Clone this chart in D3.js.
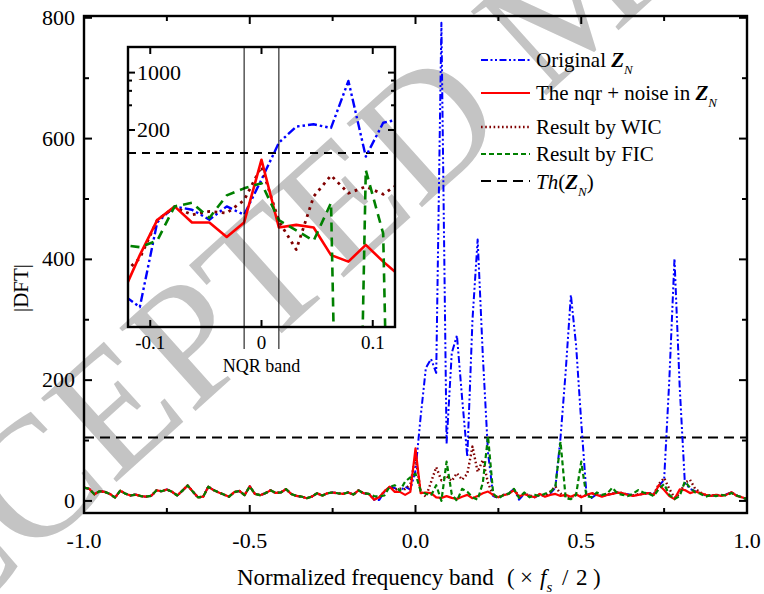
<!DOCTYPE html>
<html><head><meta charset="utf-8">
<script src="https://cdn.jsdelivr.net/npm/d3@7"></script>
<style>
body{margin:0;background:#fff}
svg{display:block}
text{font-family:"Liberation Serif","Times New Roman",serif;fill:#000}
</style>
</head><body>
<svg id="chart" width="764" height="594"></svg>
<script>
// frequency bins: k/64 for k = -64..64 (normalized frequency, x fs/2)
const binIndex = d3.range(-64, 65);

// shared background noise, k = -64 .. -9 (all four curves coincide here)
const noiseLeft = [22,20,11,16,15,11.6,5.5,17,12,9,10.5,8,7,8.5,17.5,16,19,15,9,17,25.5,15.5,6,7,23.5,18,14,10.5,7,14.5,16.5,9.5,
  24,11.6,9.5,12.7,17.5,13.3,14,19.5,11.6,8.3,7.2,4.4,7.2,12.7,8.8,12.7,14,12.7,11.6,14,10.5,17.5,12.7,11.6];

// k = -8 .. 64
const originalRight = [2,1.4,15,23.5,21.4,16.2,23.5,18.6, 50,
  140,220,235,212,792,95,245,274,170,73,300,433,240,80,8,5,10,12,20,2,12,9,6,10,8,12,22,105,215,341,258,130,12,5,11,8,10,12,14,12,11,9,10,12,13,12,25,35,200,401,190,30,20,16,13,9,8,10,9,11,14,9,6,3];
const nqrRight = [2,6,16,23.5,15,15,10,15, 87,
  13,14,13,6,5,8,5,3.3,7,10,4.4,8,12.7,15.5,10,6,9.4,11.6,18,7,11.6,8.3,6,11.6,7,10,11.6,8.3,10,7,11,6,10,12.8,10,7,10,11.6,13.8,12.8,10,8.3,10,11.6,12.8,10,26.5,18,8,3,19,18,13,15.5,13,10,8.3,10,8.3,10,14.4,8.3,6,3.3];
const wicRight = [3.5,5.5,16,23,18.6,20.4,19.5,28, 72,
  15.5,7,31,56,34,41,33,46,35,45,90,48,68,30,8,6,10,12,19,8,12,9,7,11,9,15,24,12,8,6,10,8,9,13,10,8,11,12,14,13,10,9,11,12,13,11,28,38,20,5,12,30,35,20,14,10,9,10,9,10,14,9,6,3];
const ficRight = [8,7.5,9,23.5,26,17,32,39, 45,
  16,12,9,26,0,65,11,0,20,15,6,2,30,107,12,4,10,12,20,5,14,6,10,8,12,15,23,98,4,3,10,65,8,6,14,10,12,22,12,10,8,12,18,14,12,8,20,28,10,3,8,32,22,14,12,7,10,8,10,9,13,9,6,3];

const threshold = 105;
const xTicks = [-1.0, -0.5, 0.0, 0.5, 1.0];
const xMinorTicks = [-0.75, -0.25, 0.25, 0.75];
const yTicks = [0, 200, 400, 600, 800];
const yMinorTicks = [100, 300, 500, 700];
const insetXTicks = [-0.1, 0, 0.1];
const insetYLabels = [200, 1000];
const insetYMinor = [400, 600, 800];
const nqrBand = [-1/64, 1/64];

const toPts = arr => arr.map((v, i) => ({f: binIndex[i] / 64, v}));
const series = [
  {key:"orig", data: toPts(noiseLeft.concat(originalRight)), color:"#0000ff", w:2, dash:"7,2.5,2,2.5,2,2.5", idash:"9,3,2.5,3,2.5,3"},
  {key:"wic",  data: toPts(noiseLeft.concat(wicRight)), color:"#800000", w:2.4, dash:"1.6,2.6", idash:"2.8,4.5"},
  {key:"nqr",  data: toPts(noiseLeft.concat(nqrRight)), color:"#ff0000", w:2.2, dash:null, idash:null},
  {key:"fic",  data: toPts(noiseLeft.concat(ficRight)), color:"#008000", w:2.2, dash:"5,3", idash:"9,6"}
];

const svg = d3.select("#chart");

// watermark
svg.append("text")
  .attr("transform","translate(-150,722) rotate(-42)")
  .attr("font-size",172)
  .style("fill","#c4c4c4")
  .text("ACCEPTED MANUSCRIPT");

// ---------- main plot ----------
const L = 84, R = 747, T = 16, B = 513;
const x = d3.scaleLinear().domain([-1, 1]).range([L, R]);
const y = d3.scaleLinear().domain([-20, 803]).range([B, T]);

svg.append("clipPath").attr("id","mainClip").append("rect")
  .attr("x",L).attr("y",T).attr("width",R-L).attr("height",B-T);

const gMain = svg.append("g").attr("clip-path","url(#mainClip)");
const line = d3.line().x(d => x(d.f)).y(d => y(d.v));

gMain.append("line").attr("x1",x(-1)).attr("x2",x(1)).attr("y1",y(threshold)).attr("y2",y(threshold))
  .attr("stroke","#000").attr("stroke-width",2).attr("stroke-dasharray","10,6");

series.forEach(s => {
  gMain.append("path").datum(s.data).attr("d", line)
    .attr("fill","none").attr("stroke", s.color).attr("stroke-width", s.w)
    .attr("stroke-linejoin","round")
    .attr("stroke-dasharray", s.dash);
});

// frame
svg.append("rect").attr("x",L).attr("y",T).attr("width",R-L).attr("height",B-T)
  .attr("fill","none").attr("stroke","#000").attr("stroke-width",2.4);

// ticks (inward on all sides)
const tg = svg.append("g").attr("stroke","#000").attr("stroke-width",2);
xTicks.forEach(t => {
  tg.append("line").attr("x1",x(t)).attr("x2",x(t)).attr("y1",B).attr("y2",B-8);
  tg.append("line").attr("x1",x(t)).attr("x2",x(t)).attr("y1",T).attr("y2",T+8);
});
xMinorTicks.forEach(t => {
  tg.append("line").attr("x1",x(t)).attr("x2",x(t)).attr("y1",B).attr("y2",B-5);
  tg.append("line").attr("x1",x(t)).attr("x2",x(t)).attr("y1",T).attr("y2",T+5);
});
yTicks.forEach(t => {
  tg.append("line").attr("x1",L).attr("x2",L+8).attr("y1",y(t)).attr("y2",y(t));
  tg.append("line").attr("x1",R).attr("x2",R-8).attr("y1",y(t)).attr("y2",y(t));
});
yMinorTicks.forEach(t => {
  tg.append("line").attr("x1",L).attr("x2",L+5).attr("y1",y(t)).attr("y2",y(t));
  tg.append("line").attr("x1",R).attr("x2",R-5).attr("y1",y(t)).attr("y2",y(t));
});

// tick labels
svg.append("g").selectAll("text").data(xTicks).join("text")
  .attr("x", d => x(d)).attr("y", 548).attr("text-anchor","middle").attr("font-size",22)
  .text(d => d.toFixed(1));
svg.append("g").selectAll("text").data(yTicks).join("text")
  .attr("x", 75).attr("y", d => y(d) + 7).attr("text-anchor","end").attr("font-size",22)
  .text(d => d);

// axis titles
svg.append("text").attr("transform","translate(28,288) rotate(-90)").attr("text-anchor","middle")
  .attr("font-size",21).text("|DFT|");
const xt = svg.append("text").attr("y",585).attr("font-size",23);
xt.append("tspan").attr("x",237).text("Normalized frequency band");
xt.append("tspan").attr("x",507).text("(");
xt.append("tspan").attr("x",520).text("×");
xt.append("tspan").attr("x",540).attr("font-style","italic").text("f");
xt.append("tspan").attr("font-style","italic").attr("font-size",15).attr("dy",7).text("s");
xt.append("tspan").attr("x",562).attr("dy",-7).text("/");
xt.append("tspan").attr("x",576).text("2");
xt.append("tspan").attr("x",593).text(")");

// legend
const legendRows = [
  {s:"orig", y:60, base:67, parts:[["Original ",""],["Z","bi"],["N","sub"]]},
  {s:"nqr", y:93, base:100, parts:[["The nqr + noise in ",""],["Z","bi"],["N","sub"]]},
  {s:"wic", y:127, base:134, parts:[["Result by WIC",""]]},
  {s:"fic", y:154, base:161, parts:[["Result by FIC",""]]},
  {s:"th", y:181, base:189, parts:[["Th","i"],["(",""],["Z","bi"],["N","sub"],[")","up"]]}
];
const lg = svg.append("g");
legendRows.forEach(r => {
  const s = series.find(q => q.key === r.s);
  lg.append("line").attr("x1",481).attr("x2",530).attr("y1",r.y).attr("y2",r.y)
    .attr("stroke", s ? s.color : "#000").attr("stroke-width", s ? s.w : 2)
    .attr("stroke-dasharray", s ? s.dash : "10,6");
  const t = lg.append("text").attr("x",536).attr("y",r.base).attr("font-size",21);
  r.parts.forEach(p => {
    const sp = t.append("tspan").text(p[0]);
    if (p[1] === "bi") sp.attr("font-weight","bold").attr("font-style","italic");
    if (p[1] === "i") sp.attr("font-style","italic");
    if (p[1] === "sub") sp.attr("font-style","italic").attr("font-size",13).attr("dy",7);
    if (p[1] === "up") sp.attr("dy",-7);
  });
});

// ---------- inset ----------
const iL = 128, iR = 395, iT = 47, iB = 327;
const xi = d3.scaleLinear().domain([-0.12, 0.12]).range([iL, iR]);
const yi = d3.scaleLog().domain([0.8, 2050]).range([iB, iT]);

svg.append("clipPath").attr("id","insetClip").append("rect")
  .attr("x",iL).attr("y",iT).attr("width",iR-iL).attr("height",iB-iT);
const gIn = svg.append("g").attr("clip-path","url(#insetClip)");
const iline = d3.line().x(d => xi(d.f)).y(d => yi(Math.max(d.v, 1e-9)));

gIn.append("line").attr("x1",iL).attr("x2",iR).attr("y1",yi(threshold)).attr("y2",yi(threshold))
  .attr("stroke","#000").attr("stroke-width",2).attr("stroke-dasharray","8,6");
series.forEach(s => {
  gIn.append("path").datum(s.data.filter(d => d.f >= -0.15 && d.f <= 0.15)).attr("d", iline)
    .attr("fill","none").attr("stroke", s.color).attr("stroke-width", s.w + 0.4)
    .attr("stroke-linejoin","round")
    .attr("stroke-dasharray", s.idash);
});

// NQR band markers
nqrBand.forEach(f => {
  svg.append("line").attr("x1",xi(f)).attr("x2",xi(f)).attr("y1",iT).attr("y2",iB+22)
    .attr("stroke","#000").attr("stroke-width",1);
});

svg.append("rect").attr("x",iL).attr("y",iT).attr("width",iR-iL).attr("height",iB-iT)
  .attr("fill","none").attr("stroke","#000").attr("stroke-width",2.4);

const itg = svg.append("g").attr("stroke","#000").attr("stroke-width",2);
insetXTicks.forEach(t => {
  itg.append("line").attr("x1",xi(t)).attr("x2",xi(t)).attr("y1",iB).attr("y2",iB-7);
  itg.append("line").attr("x1",xi(t)).attr("x2",xi(t)).attr("y1",iT).attr("y2",iT+7);
});
insetYLabels.forEach(t => {
  itg.append("line").attr("x1",iL).attr("x2",iL+7).attr("y1",yi(t)).attr("y2",yi(t));
  itg.append("line").attr("x1",iR).attr("x2",iR-7).attr("y1",yi(t)).attr("y2",yi(t));
});
insetYMinor.forEach(t => {
  itg.append("line").attr("x1",iL).attr("x2",iL+4).attr("y1",yi(t)).attr("y2",yi(t));
  itg.append("line").attr("x1",iR).attr("x2",iR-4).attr("y1",yi(t)).attr("y2",yi(t));
});

svg.append("g").selectAll("text").data(insetYLabels).join("text")
  .attr("x",137).attr("y", d => yi(d) + 7).attr("font-size",22).text(d => d);
svg.append("g").selectAll("text").data(insetXTicks).join("text")
  .attr("x", d => xi(d)).attr("y", 349).attr("text-anchor","middle").attr("font-size",19)
  .text(d => d === 0 ? "0" : d.toFixed(1));
svg.append("text").attr("x", xi(0)).attr("y", 372).attr("text-anchor","middle").attr("font-size",18)
  .text("NQR band");
</script>
</body></html>
